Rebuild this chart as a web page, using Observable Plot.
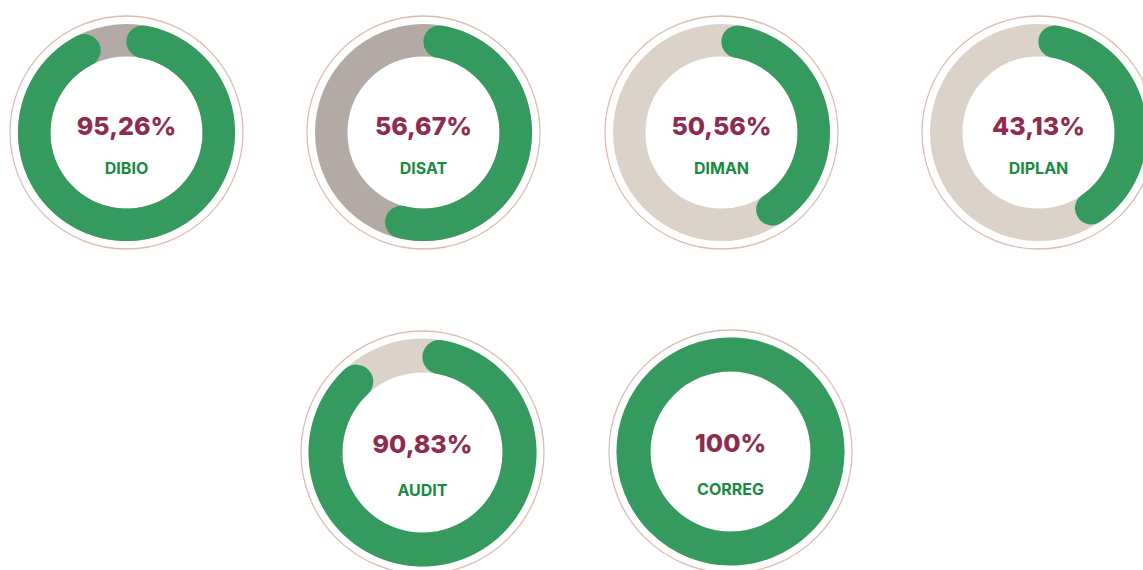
<!DOCTYPE html>
<html>
<head>
<meta charset="utf-8">
<script src="https://cdn.jsdelivr.net/npm/d3@7"></script>
<script src="https://cdn.jsdelivr.net/npm/@observablehq/plot@0.6"></script>
<style>
  html, body { margin: 0; padding: 0; background: #fff; width: 1143px; height: 570px; overflow: hidden; }
  #wrap { position: relative; width: 1143px; height: 570px; overflow: hidden; }
  .cell { position: absolute; }
</style>
</head>
<body>
<div id="wrap"></div>
<script>
// ---- data ----
const units = ["DIBIO", "DISAT", "DIMAN", "DIPLAN", "AUDIT", "CORREG"];
const values = [95.26, 56.67, 50.56, 43.13, 90.83, 100];
const valueLabels = ["95,26%", "56,67%", "50,56%", "43,13%", "90,83%", "100%"];
// share of the ring drawn green (DIMAN's arc is drawn shorter than its label)
const arcShares = [95.26, 56.67, 43.5, 43.13, 90.83, 100];
const trackKinds = ["dark", "dark", "light", "light", "light", "light"];

// ---- layout / style ----
const layout = [
  {cx: 126, cy: 131.5, big: false},
  {cx: 423, cy: 131.5, big: false},
  {cx: 721, cy: 131.5, big: false},
  {cx: 1038, cy: 131.5, big: false},
  {cx: 422, cy: 452, big: true},
  {cx: 730, cy: 451, big: true}
];
const sizes = {
  small: {outline: 116.5, outer: 108.5, inner: 76, pctDy: -6, labDy: 36},
  big:   {outline: 121.5, outer: 114, inner: 80, pctDy: -8, labDy: 38}
};
const colors = {
  green: "#349a5e",
  dark: "#b3aaa5",
  light: "#dbd2ca",
  outline: "#dcbcb0",
  pct: "#8f2c4c",
  label: "#1b8a41"
};
const font = "Inter, 'Open Sans', sans-serif";

const wrap = document.getElementById("wrap");

units.forEach((name, i) => {
  const L = layout[i];
  const s = L.big ? sizes.big : sizes.small;
  const S = Math.ceil(s.outline + 4);
  const W = 2 * S;
  const ringW = s.outer - s.inner;
  const midR = (s.outer + s.inner) / 2;
  const frac = arcShares[i] / 100;

  const marks = [
    Plot.dot([0], {x: () => 0, y: () => 0, r: s.outline, fill: "none", stroke: colors.outline, strokeWidth: 1.3}),
    Plot.dot([0], {x: () => 0, y: () => 0, r: midR, fill: "none", stroke: colors[trackKinds[i]], strokeWidth: ringW})
  ];

  if (frac >= 1) {
    marks.push(Plot.dot([0], {x: () => 0, y: () => 0, r: midR, fill: "none", stroke: colors.green, strokeWidth: ringW}));
  } else {
    const delta = (ringW / 2) / midR;
    const a0 = delta;
    const a1 = frac * 2 * Math.PI - delta;
    const N = 240;
    const pts = d3.range(N + 1).map(k => {
      const a = a0 + (a1 - a0) * k / N;
      return {x: midR * Math.sin(a), y: -midR * Math.cos(a)};
    });
    marks.push(Plot.line(pts, {x: "x", y: "y", stroke: colors.green, strokeWidth: ringW, strokeLinecap: "round", curve: "linear"}));
  }

  marks.push(Plot.text([valueLabels[i]], {x: () => 0, y: () => s.pctDy, text: d => d, fill: colors.pct, fontSize: 25, fontWeight: 800, fontFamily: font, textAnchor: "middle", lineAnchor: "middle"}));
  marks.push(Plot.text([name], {x: () => 0, y: () => s.labDy, text: d => d, fill: colors.label, fontSize: 16, fontWeight: 700, fontFamily: font, textAnchor: "middle", lineAnchor: "middle"}));

  const chart = Plot.plot({
    width: W,
    height: W,
    margin: 0,
    x: {domain: [-S, S], range: [0, W], axis: null},
    y: {domain: [-S, S], range: [0, W], axis: null},
    style: {background: "transparent", overflow: "visible"},
    marks
  });

  const div = document.createElement("div");
  div.className = "cell";
  div.style.left = (L.cx - S) + "px";
  div.style.top = (L.cy - S) + "px";
  div.style.width = W + "px";
  div.style.height = W + "px";
  div.appendChild(chart);
  wrap.appendChild(div);
});
</script>
</body>
</html>
